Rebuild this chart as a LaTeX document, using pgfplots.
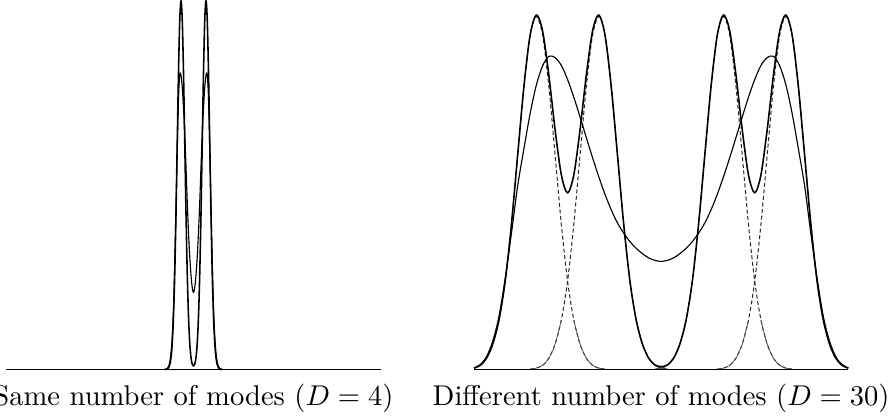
\documentclass[border=0pt]{standalone}
\usepackage{pgfplots}
\pgfplotsset{compat=1.18}
\usepackage{pgfplotstable}

% right panel: mixture of four modes, two-mode fit, and the four components
\pgfplotstableread{
x m4 bi ca cb cc cd
-3.0 0.004 0.004 0.004 0 0 0
-2.9 0.012 0.014 0.012 0 0 0
-2.8 0.032 0.036 0.032 0 0 0
-2.7 0.072 0.080 0.072 0 0 0
-2.6 0.140 0.150 0.140 0 0 0
-2.5 0.250 0.258 0.250 0 0 0
-2.4 0.411 0.385 0.411 0 0 0
-2.3 0.607 0.520 0.607 0 0 0
-2.2 0.801 0.625 0.801 0 0 0
-2.1 0.947 0.725 0.946 0.001 0 0
-2.0 1.004 0.806 1.000 0.004 0 0
-1.9 0.958 0.860 0.946 0.012 0 0
-1.8 0.833 0.887 0.801 0.032 0 0
-1.7 0.679 0.883 0.607 0.072 0 0
-1.6 0.551 0.861 0.411 0.140 0 0
-1.5 0.500 0.821 0.250 0.250 0 0
-1.4 0.551 0.771 0.140 0.411 0 0
-1.3 0.679 0.715 0.072 0.607 0 0
-1.2 0.833 0.657 0.032 0.801 0 0
-1.1 0.958 0.600 0.012 0.946 0 0
-1.0 1.004 0.546 0.004 1.000 0 0
-0.9 0.947 0.496 0.001 0.946 0 0
-0.8 0.801 0.452 0 0.801 0 0
-0.7 0.607 0.415 0 0.607 0 0
-0.6 0.411 0.386 0 0.411 0 0
-0.5 0.250 0.362 0 0.250 0 0
-0.4 0.140 0.343 0 0.140 0 0
-0.3 0.072 0.328 0 0.072 0 0
-0.2 0.032 0.316 0 0.032 0 0
-0.1 0.013 0.309 0 0.012 0.001 0
0.0 0.008 0.306 0 0.004 0.004 0
0.1 0.013 0.309 0 0.001 0.012 0
0.2 0.032 0.316 0 0 0.032 0
0.3 0.072 0.328 0 0 0.072 0
0.4 0.140 0.343 0 0 0.140 0
0.5 0.250 0.362 0 0 0.250 0
0.6 0.411 0.386 0 0 0.411 0
0.7 0.607 0.415 0 0 0.607 0
0.8 0.801 0.452 0 0 0.801 0
0.9 0.947 0.496 0 0 0.946 0.001
1.0 1.004 0.546 0 0 1.000 0.004
1.1 0.958 0.600 0 0 0.946 0.012
1.2 0.833 0.657 0 0 0.801 0.032
1.3 0.679 0.715 0 0 0.607 0.072
1.4 0.551 0.771 0 0 0.411 0.140
1.5 0.500 0.821 0 0 0.250 0.250
1.6 0.551 0.861 0 0 0.140 0.411
1.7 0.679 0.883 0 0 0.072 0.607
1.8 0.833 0.887 0 0 0.032 0.801
1.9 0.958 0.860 0 0 0.012 0.946
2.0 1.004 0.806 0 0 0.004 1.000
2.1 0.947 0.725 0 0 0.001 0.946
2.2 0.801 0.625 0 0 0 0.801
2.3 0.607 0.520 0 0 0 0.607
2.4 0.411 0.385 0 0 0 0.411
2.5 0.250 0.258 0 0 0 0.250
2.6 0.140 0.150 0 0 0 0.140
2.7 0.072 0.080 0 0 0 0.072
2.8 0.032 0.036 0 0 0 0.032
2.9 0.012 0.014 0 0 0 0.012
3.0 0.004 0.004 0 0 0 0.004
}\rtab

% left panel: two narrow modes and the wider fit
\pgfplotstableread{
x tall short
-0.46 0 0
-0.44 0.0004 0.001
-0.42 0.0015 0.003
-0.40 0.0046 0.008
-0.38 0.0129 0.020
-0.36 0.0321 0.045
-0.34 0.0718 0.090
-0.32 0.1444 0.170
-0.30 0.2609 0.290
-0.28 0.4232 0.440
-0.26 0.6165 0.600
-0.24 0.8065 0.735
-0.22 0.9477 0.800
-0.20 1.0000 0.798
-0.18 0.9477 0.765
-0.16 0.8065 0.710
-0.14 0.6165 0.640
-0.12 0.4232 0.550
-0.10 0.2609 0.455
-0.08 0.1444 0.372
-0.06 0.0719 0.306
-0.04 0.0325 0.256
-0.02 0.0144 0.222
0.00 0.0093 0.208
0.02 0.0144 0.222
0.04 0.0325 0.256
0.06 0.0719 0.306
0.08 0.1444 0.372
0.10 0.2609 0.455
0.12 0.4232 0.550
0.14 0.6165 0.640
0.16 0.8065 0.710
0.18 0.9477 0.765
0.20 1.0000 0.798
0.22 0.9477 0.800
0.24 0.8065 0.735
0.26 0.6165 0.600
0.28 0.4232 0.440
0.30 0.2609 0.290
0.32 0.1444 0.170
0.34 0.0718 0.090
0.36 0.0321 0.045
0.38 0.0129 0.020
0.40 0.0046 0.008
0.42 0.0015 0.003
0.44 0.0004 0.001
0.46 0 0
}\ltab

\begin{document}
\begin{tikzpicture}[line join=round]
\pgfplotsset{panel/.style={scale only axis,hide axis,clip=false,
  xmin=-3,xmax=3,ymin=0,ymax=1,anchor=south west}}
\pgfplotsset{comp/.style={black!85,line width=0.35pt,smooth,dash pattern=on 1.4pt off 0.9pt,
  restrict y to domain=0.0005:2,unbounded coords=jump}}
\pgfplotsset{tail/.style={black!70,line width=0.25pt,smooth,restrict y to domain=0.0005:0.15,unbounded coords=jump}}

\begin{axis}[panel,at={(2.1pt,16.625pt)},width=131.25pt,height=129.05pt]
\addplot[black,line width=0.4pt,smooth] table[x=x,y=short] {\ltab};
\addplot[black,line width=0.55pt,smooth] table[x=x,y=tall] {\ltab};
\addplot[black,line width=0.45pt] coordinates {(-3,0) (3,0)};
\node[anchor=base,yshift=-12.775pt] at (axis description cs:0.5,0) {Same number of modes ($D=4$)};
\end{axis}

\begin{axis}[panel,at={(165.9pt,16.625pt)},width=131pt,height=123.6pt]
\addplot[comp] table[x=x,y=ca] {\rtab};
\addplot[comp] table[x=x,y=cb] {\rtab};
\addplot[comp] table[x=x,y=cc] {\rtab};
\addplot[comp] table[x=x,y=cd] {\rtab};
\addplot[tail] table[x=x,y=ca] {\rtab};
\addplot[tail] table[x=x,y=cb] {\rtab};
\addplot[tail] table[x=x,y=cc] {\rtab};
\addplot[tail] table[x=x,y=cd] {\rtab};
\addplot[black,line width=0.4pt,smooth] table[x=x,y=bi] {\rtab};
\addplot[black,line width=0.55pt,smooth] table[x=x,y=m4] {\rtab};
\addplot[black,line width=0.45pt] coordinates {(-3,0) (3,0)};
\node[anchor=base,yshift=-12.775pt] at (axis description cs:0.5,0) {Different number of modes ($D=30$)};
\end{axis}

\pgfresetboundingbox
\useasboundingbox (0pt,0pt) rectangle (312.55pt,145.95pt);
\end{tikzpicture}
\end{document}
